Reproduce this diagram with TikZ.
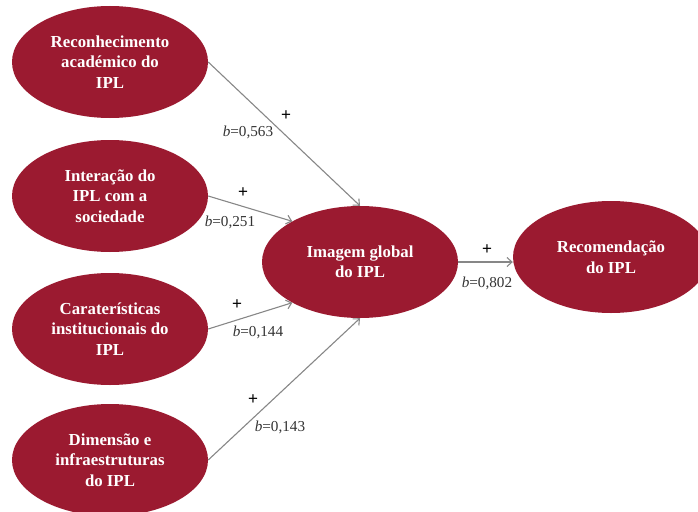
\documentclass[tikz,border=0pt]{standalone}
\usepackage{fontspec}
\setmainfont{Liberation Serif}
\newfontfamily\plusfont{Liberation Sans}
\usetikzlibrary{shapes.geometric,arrows.meta}
\definecolor{ipl}{RGB}{155,26,48}
\definecolor{arr}{RGB}{135,135,135}
\begin{document}
\begin{tikzpicture}[x=1pt,y=-1pt,
  construct/.style={ellipse,fill=ipl,draw=none,minimum width=196pt,minimum height=112pt,inner sep=0pt,
    text=white,font=\fontsize{16.8}{20.5}\selectfont\bfseries,align=center},
  path/.style={draw=arr,line width=1.1pt,-{Straight Barb[length=5pt,width=9pt]}},
  coef/.style={font=\fontsize{15.2}{16}\selectfont,text=black!80,inner sep=0pt},
  sign/.style={font=\plusfont\fontsize{17}{18}\selectfont,inner sep=0pt}]
\clip (0,0) rectangle (698,511);
\node[construct] (e1) at (110,62) {Reconhecimento\\académico do\\IPL};
\node[construct] (e2) at (110,196) {Interação do\\IPL com a\\sociedade};
\node[construct] (e3) at (110,329) {Caraterísticas\\institucionais do\\IPL};
\node[construct] (e4) at (110,460) {Dimensão e\\infraestruturas\\do IPL};
\node[construct] (e5) at (360,262) {Imagem global\\do IPL};
\node[construct] (e6) at (611,257) {Recomendação\\do IPL};
\draw[path] (e1.east) -- (e5.north);
\draw[path] (e2.east) -- (e5.149);
\draw[path] (e3.east) -- (e5.211);
\draw[path] (e4.east) -- (e5.south);
\draw[path] (e5.east) -- (e5.east -| e6.west);
\node[sign] (p1) at (286,116) {+};
\node[coef] (c1) at (248,132) {\textit{b}=0,563};
\node[sign] (p2) at (243,193) {+};
\node[coef] (c2) at (230,222) {\textit{b}=0,251};
\node[sign] (p3) at (237,305) {+};
\node[coef] (c3) at (258,332) {\textit{b}=0,144};
\node[sign] (p4) at (253,400) {+};
\node[coef] (c4) at (280,427) {\textit{b}=0,143};
\node[sign] (p5) at (487,250) {+};
\node[coef] (c5) at (487,283) {\textit{b}=0,802};
\end{tikzpicture}
\end{document}
